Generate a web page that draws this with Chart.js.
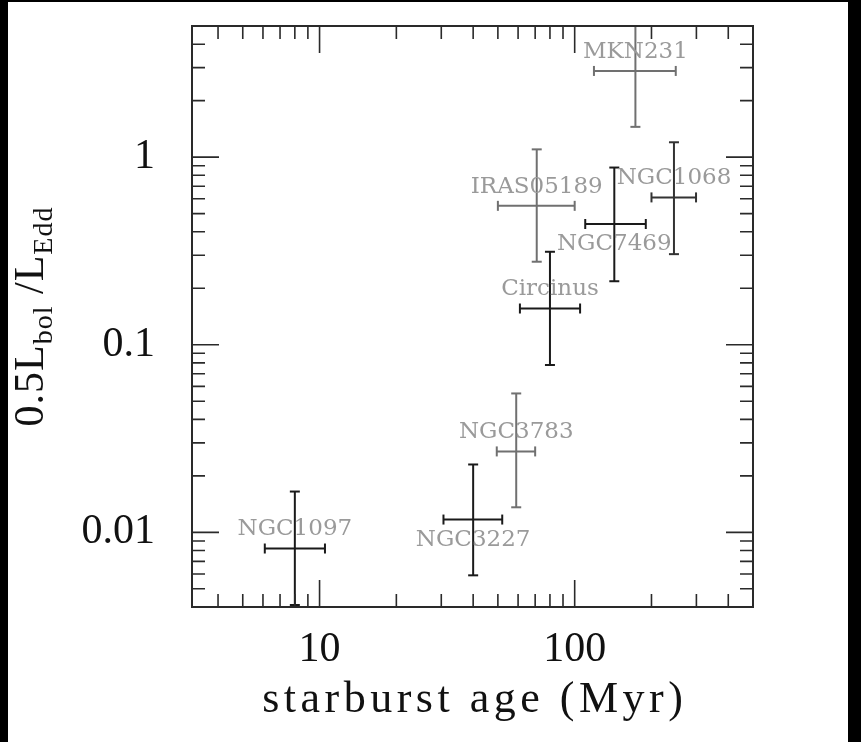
<!DOCTYPE html>
<html>
<head>
<meta charset="utf-8">
<style>
  html, body { margin: 0; padding: 0; background: #000; }
  body { width: 861px; height: 742px; overflow: hidden; position: relative; }
  #plot { position: absolute; left: 8px; top: 2px; background: #fff; }
</style>
</head>
<body>
<canvas id="plot" width="840" height="740"></canvas>

<script src="https://cdn.jsdelivr.net/npm/chart.js"></script>
<script>
// AGN sample: starburst age against Eddington ratio, with error bars
const objects  = ['MKN231', 'IRAS05189', 'NGC1068', 'NGC7469', 'Circinus', 'NGC3783', 'NGC3227', 'NGC1097'];
const age      = [173, 71, 245, 143, 80, 59, 40, 8];        // Myr
const ageLow   = [119, 50, 200, 110, 61, 49.5, 30.6, 6.1];
const ageHigh  = [249, 100, 299, 190, 105, 70, 52, 10.5];
const eddRatio = [2.88, 0.55, 0.61, 0.44, 0.156, 0.027, 0.0117, 0.0082];
const eddLow   = [1.45, 0.277, 0.304, 0.218, 0.078, 0.0136, 0.0059, 0.0041];
const eddHigh  = [5.7, 1.10, 1.20, 0.88, 0.313, 0.055, 0.023, 0.0165];

const xTickLabels = [10, 100];
const yTickLabels = [0.01, 0.1, 1];

const X_MIN = 3.1623, X_MAX = 500;
const Y_MIN = 0.004, Y_MAX = 5;

// which names go under their point, which bars are drawn lighter
const labelBelow = ['NGC7469', 'NGC3227'];
const greyBars = ['MKN231', 'IRAS05189', 'NGC3783'];

function barColour(name) {
    if (greyBars.includes(name)) return '#707070';
    if (name === 'NGC1068') return '#333';
    return '#1a1a1a';
}

// two line datasets per object: horizontal bar (age) and vertical bar (ratio)
const datasets = [];
objects.forEach((name, i) => {
    const c = barColour(name);
    const common = {
        showLine: true,
        borderColor: c,
        borderWidth: 2,
        pointStyle: 'line',
        pointRadius: 5,
        pointBorderWidth: 2,
        pointBorderColor: c,
        pointHoverRadius: 5
    };
    datasets.push(Object.assign({
        label: name + ' age',
        data: [{ x: ageLow[i], y: eddRatio[i] }, { x: ageHigh[i], y: eddRatio[i] }],
        pointRotation: 90
    }, common));
    datasets.push(Object.assign({
        label: name + ' ratio',
        data: [{ x: age[i], y: eddLow[i] }, { x: age[i], y: eddHigh[i] }],
        pointRotation: 0
    }, common));
});

// log tick positions (1..9 x 10^n) inside the range
function logTicks(min, max) {
    const out = [];
    for (let e = Math.floor(Math.log10(min)); e <= Math.ceil(Math.log10(max)); e++) {
        for (let m = 1; m <= 9; m++) {
            const v = m * Math.pow(10, e);
            if (v > min * 1.0001 && v < max * 0.9999) out.push({ v: v, major: m === 1 });
        }
    }
    return out;
}

// box round the plot with inward ticks on all four sides
const framePlugin = {
    id: 'frame',
    afterDatasetsDraw(chart) {
        const { ctx, chartArea: a, scales: { x, y } } = chart;
        ctx.save();
        ctx.strokeStyle = '#2a2a2a';
        ctx.lineWidth = 1.6;
        ctx.beginPath();
        logTicks(x.min, x.max).forEach(t => {
            const px = x.getPixelForValue(t.v);
            const len = t.major ? 27 : 13;
            ctx.moveTo(px, a.bottom); ctx.lineTo(px, a.bottom - len);
            ctx.moveTo(px, a.top); ctx.lineTo(px, a.top + len);
        });
        logTicks(y.min, y.max).forEach(t => {
            const py = y.getPixelForValue(t.v);
            const len = t.major ? 27 : 13;
            ctx.moveTo(a.left, py); ctx.lineTo(a.left + len, py);
            ctx.moveTo(a.right, py); ctx.lineTo(a.right - len, py);
        });
        ctx.stroke();
        ctx.lineWidth = 2;
        ctx.strokeRect(a.left, a.top, a.right - a.left, a.bottom - a.top);
        ctx.restore();
    }
};

// object names next to each point
const namePlugin = {
    id: 'names',
    afterDatasetsDraw(chart) {
        const { ctx, scales: { x, y } } = chart;
        ctx.save();
        ctx.font = '23px "DejaVu Serif"';
        ctx.fillStyle = '#9a9a9a';
        ctx.textAlign = 'center';
        ctx.textBaseline = 'middle';
        objects.forEach((name, i) => {
            const px = x.getPixelForValue(age[i]);
            const py = y.getPixelForValue(eddRatio[i]);
            ctx.fillText(name, px, py + (labelBelow.includes(name) ? 20 : -19));
        });
        ctx.restore();
    }
};

// axis titles, the y one with subscripts
const titlePlugin = {
    id: 'titles',
    afterDraw(chart) {
        const { ctx, chartArea: a } = chart;
        ctx.save();
        ctx.fillStyle = '#111';
        ctx.textBaseline = 'alphabetic';

        // x title
        ctx.font = '44px "Liberation Serif"';
        ctx.letterSpacing = '4.5px';
        const xt = 'starburst age (Myr)';
        const w = ctx.measureText(xt).width - 4.5;
        ctx.textAlign = 'left';
        ctx.fillText(xt, (a.left + a.right) / 2 - w / 2, 710);

        // y title
        ctx.letterSpacing = '1px';
        const parts = [
            { t: '0.5L', sub: false },
            { t: 'bol', sub: true },
            { t: ' /', sub: false },
            { t: 'L', sub: false },
            { t: 'Edd', sub: true }
        ];
        const big = '42px "Liberation Serif"', small = '28px "Liberation Serif"';
        let total = 0;
        parts.forEach(p => {
            ctx.font = p.sub ? small : big;
            p.w = ctx.measureText(p.t).width;
            total += p.w;
        });
        ctx.translate(35, (a.top + a.bottom) / 2);
        ctx.rotate(-Math.PI / 2);
        let cx = -total / 2;
        parts.forEach(p => {
            ctx.font = p.sub ? small : big;
            ctx.fillText(p.t, cx, p.sub ? 9 : 0);
            cx += p.w;
        });
        ctx.restore();
    }
};

const tickFont = { family: 'Liberation Serif', size: 42 };

const chart = new Chart(document.getElementById('plot').getContext('2d'), {
    type: 'scatter',
    data: { datasets: datasets },
    options: {
        responsive: false,
        animation: false,
        events: [],
        layout: { padding: { top: 24, right: 95, left: 0, bottom: 0 } },
        plugins: {
            legend: { display: false },
            tooltip: { enabled: false }
        },
        scales: {
            x: {
                type: 'logarithmic',
                min: X_MIN,
                max: X_MAX,
                grid: { display: false },
                border: { display: false },
                afterBuildTicks: s => { s.ticks = xTickLabels.map(v => ({ value: v })); },
                afterFit: s => { s.height = 135; s.paddingLeft = 0; s.paddingRight = 0; },
                ticks: {
                    font: tickFont,
                    color: '#111',
                    padding: 10,
                    maxRotation: 0,
                    autoSkip: false,
                    callback: v => String(v)
                }
            },
            y: {
                type: 'logarithmic',
                min: Y_MIN,
                max: Y_MAX,
                grid: { display: false },
                border: { display: false },
                afterBuildTicks: s => { s.ticks = yTickLabels.map(v => ({ value: v })); },
                afterFit: s => { s.width = 184; s.paddingTop = 0; s.paddingBottom = 0; },
                ticks: {
                    font: tickFont,
                    color: '#111',
                    padding: 29,
                    autoSkip: false,
                    callback: v => String(v)
                }
            }
        }
    },
    plugins: [framePlugin, namePlugin, titlePlugin]
});
</script>
</body>
</html>
